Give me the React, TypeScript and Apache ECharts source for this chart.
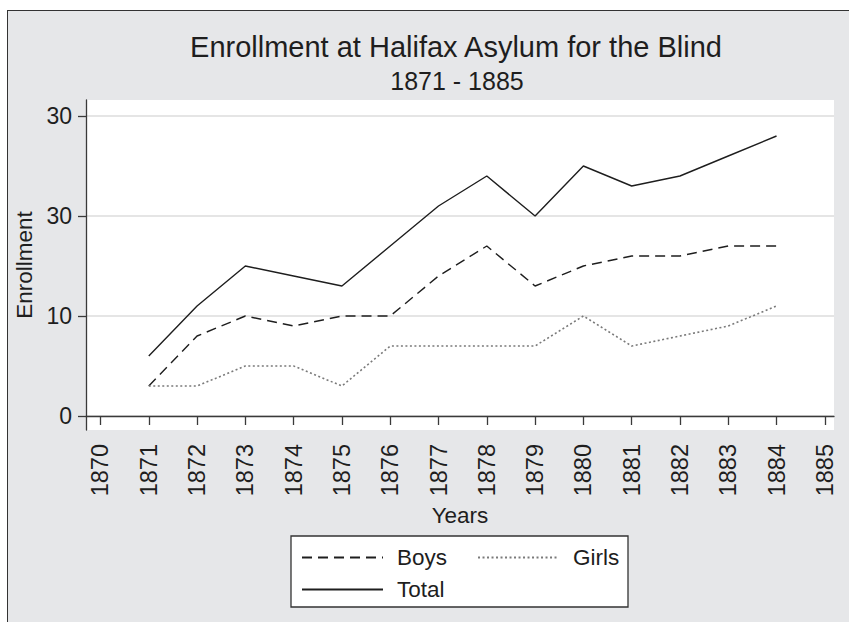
import React, { useEffect, useRef } from "react";
import * as echarts from "echarts";

const years = [1871, 1872, 1873, 1874, 1875, 1876, 1877, 1878, 1879, 1880, 1881, 1882, 1883, 1884];
const boys = [3, 8, 10, 9, 10, 10, 14, 17, 13, 15, 16, 16, 17, 17];
const girls = [3, 3, 5, 5, 3, 7, 7, 7, 7, 10, 7, 8, 9, 11];
const total = [6, 11, 15, 14, 13, 17, 21, 24, 20, 25, 23, 24, 26, 28];

const xTickValues = [1870, 1871, 1872, 1873, 1874, 1875, 1876, 1877, 1878, 1879, 1880, 1881, 1882, 1883, 1884, 1885];
const yTickValues = [0, 10, 20, 30];
const yTickLabels = ["0", "10", "30", "30"];

const titleText = "Enrollment at Halifax Asylum for the Blind";
const subtitleText = "1871 - 1885";

const FONT = "'Liberation Sans', Arial, Helvetica, sans-serif";
const INK = "#1e1e1e";

export default function App() {
  const ref = useRef<HTMLDivElement>(null);

  useEffect(() => {
    if (!ref.current) return;
    const chart = echarts.init(ref.current, undefined, { renderer: "svg" });
    const pair = (arr: number[]) => years.map((y, i) => [y, arr[i]]);
    const legendCommon = {
      left: 301,
      itemWidth: 81,
      itemHeight: 14,
      itemGap: 30,
      padding: 0,
      itemStyle: { color: "transparent", borderWidth: 0, opacity: 0 },
      textStyle: { fontSize: 22.5, color: INK, fontFamily: FONT, padding: [0, 0, 0, 9] },
    };

    chart.setOption({
      animation: false,
      textStyle: { fontFamily: FONT, color: INK },
      grid: {
        left: 86,
        right: 15,
        top: 100,
        bottom: 192,
        show: true,
        backgroundColor: "#ffffff",
        borderWidth: 0,
      },
      graphic: [
        {
          type: "rect",
          z: 0,
          shape: { x: 291, y: 536, width: 337, height: 71 },
          style: { fill: "#ffffff", stroke: "#333333", lineWidth: 1.3 },
        },
        {
          type: "text",
          x: 456,
          y: 47,
          style: {
            text: titleText,
            font: `29px ${FONT}`,
            fill: INK,
            textAlign: "center",
            textVerticalAlign: "middle",
          },
        },
        {
          type: "text",
          x: 457,
          y: 81,
          style: {
            text: subtitleText,
            font: `25px ${FONT}`,
            fill: INK,
            textAlign: "center",
            textVerticalAlign: "middle",
          },
        },
      ],
      xAxis: {
        type: "value",
        min: 1869.7,
        max: 1885.19,
        name: "Years",
        nameLocation: "middle",
        nameGap: 73,
        nameTextStyle: { fontSize: 22.5, color: INK, fontFamily: FONT },
        axisLine: { show: true, lineStyle: { color: "#3a3a3a", width: 1.3 } },
        axisTick: { show: true, length: 9, customValues: xTickValues, lineStyle: { color: "#3a3a3a", width: 1.3 } },
        axisLabel: {
          customValues: xTickValues,
          rotate: 90,
          margin: 14,
          fontSize: 23.5,
          color: INK,
          fontFamily: FONT,
          formatter: (v: number) => String(v),
        },
        splitLine: { show: false },
      },
      yAxis: {
        type: "value",
        min: -1.4,
        max: 31.6,
        name: "Enrollment",
        nameLocation: "middle",
        nameGap: 50,
        nameTextStyle: { fontSize: 22.5, color: INK, fontFamily: FONT },
        axisLine: { show: true, lineStyle: { color: "#3a3a3a", width: 1.3 } },
        axisTick: { show: true, length: 8, customValues: yTickValues, lineStyle: { color: "#3a3a3a", width: 1.3 } },
        axisLabel: {
          customValues: yTickValues,
          margin: 14,
          fontSize: 23,
          color: INK,
          fontFamily: FONT,
          formatter: (v: number) => {
            const i = yTickValues.indexOf(Math.round(v));
            return i >= 0 ? yTickLabels[i] : "";
          },
        },
        splitLine: { show: true, lineStyle: { color: "#dcdcdc", width: 1.5 } },
      },
      legend: [
        { ...legendCommon, data: ["Boys", "Girls"], top: 546 },
        { ...legendCommon, data: ["Total"], top: 578 },
      ],
      series: [
        {
          name: "Boys",
          type: "line",
          data: pair(boys),
          symbol: "none",
          color: INK,
          lineStyle: { color: INK, width: 1.4, type: [10, 6] },
        },
        {
          name: "Girls",
          type: "line",
          data: pair(girls),
          symbol: "none",
          color: "#7a7a7a",
          lineStyle: { color: "#7a7a7a", width: 1.6, type: [2, 2.5] },
        },
        {
          name: "Total",
          type: "line",
          data: pair(total),
          symbol: "none",
          color: INK,
          lineStyle: { color: INK, width: 1.4, type: "solid" },
        },
      ],
    });

    return () => chart.dispose();
  }, []);

  return (
    <div style={{ position: "absolute", left: 0, top: 0, width: 849, height: 622, overflow: "hidden", background: "#ffffff" }}>
      <div
        style={{
          position: "absolute",
          left: 7,
          top: 10,
          width: 900,
          height: 700,
          background: "#e6e7e9",
          border: "1.5px solid #333333",
        }}
      />
      <div ref={ref} style={{ position: "absolute", left: 0, top: 0, width: 849, height: 622 }} />
    </div>
  );
}
